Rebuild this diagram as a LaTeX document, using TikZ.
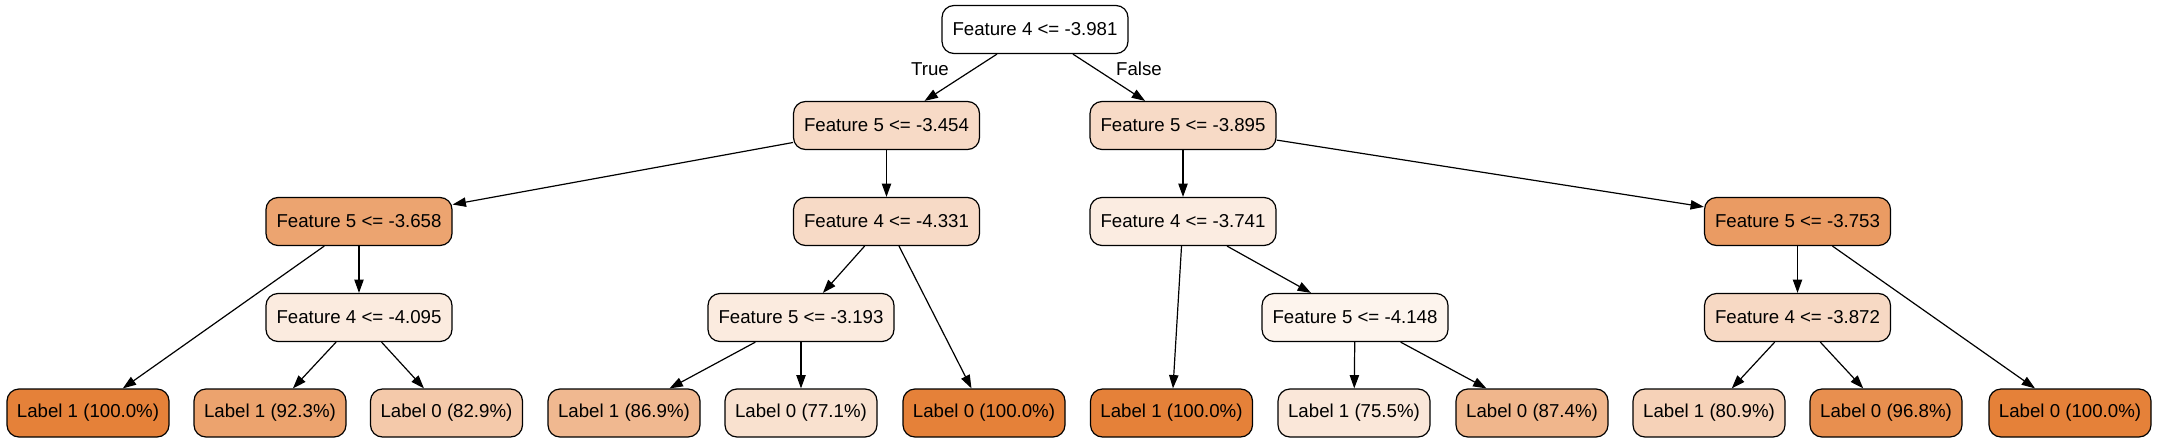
\documentclass[tikz,border=0pt]{standalone}
\usepackage{fontspec}
\setmainfont{Liberation Sans}
\usetikzlibrary{arrows.meta}
\definecolor{org}{HTML}{E58139}
\tikzset{
  box/.style={draw=black, line width=0.9pt, rounded corners=9pt, inner sep=0pt,
    minimum height=36pt, font=\fontsize{14pt}{16pt}\selectfont},
  feat/.style={box, minimum width=139.5pt},
  leaf/.style={box, minimum width=114pt},
  leafw/.style={box, minimum width=121.5pt},
  edge/.style={draw=black, line width=0.9pt, -{Triangle[length=10pt,width=7pt]}},
  elab/.style={font=\fontsize{14pt}{16pt}\selectfont, inner sep=0pt}
}
\begin{document}
\begin{tikzpicture}[x=0.75pt,y=-0.75pt]
\useasboundingbox (0,0) rectangle (2157,443);
% level 0
\node[feat, fill=white] (r) at (1035,29.5) {Feature 4 <= -3.981};
% level 1
\node[feat, fill=org!29!white] (n1) at (886.5,125.5) {Feature 5 <= -3.454};
\node[feat, fill=org!29!white] (n2) at (1183,125.5) {Feature 5 <= -3.895};
% level 2
\node[feat, fill=org!72!white] (n3) at (359,221.5) {Feature 5 <= -3.658};
\node[feat, fill=org!29!white] (n4) at (886.5,221.5) {Feature 4 <= -4.331};
\node[feat, fill=org!15!white] (n5) at (1183,221.5) {Feature 4 <= -3.741};
\node[feat, fill=org!79!white] (n6) at (1797.5,221.5) {Feature 5 <= -3.753};
% level 3
\node[feat, fill=org!16!white] (n7) at (359,317.5) {Feature 4 <= -4.095};
\node[feat, fill=org!16!white] (n8) at (801,317.5) {Feature 5 <= -3.193};
\node[feat, fill=org!9!white] (n9) at (1355,317.5) {Feature 5 <= -4.148};
\node[feat, fill=org!30!white] (n10) at (1797.5,317.5) {Feature 4 <= -3.872};
% leaves
\node[leafw, fill=org] (la) at (88,413) {Label 1 (100.0\%)};
\node[leaf, fill=org!73!white] (lb) at (270,413) {Label 1 (92.3\%)};
\node[leaf, fill=org!43!white] (lc) at (446.5,413) {Label 0 (82.9\%)};
\node[leaf, fill=org!56!white] (ld) at (624,413) {Label 1 (86.9\%)};
\node[leaf, fill=org!24!white] (le) at (801,413) {Label 0 (77.1\%)};
\node[leafw, fill=org] (lf) at (984,413) {Label 0 (100.0\%)};
\node[leafw, fill=org] (lg) at (1171.5,413) {Label 1 (100.0\%)};
\node[leaf, fill=org!19!white] (lh) at (1354,413) {Label 1 (75.5\%)};
\node[leaf, fill=org!58!white] (li) at (1532,413) {Label 0 (87.4\%)};
\node[leaf, fill=org!36!white] (lj) at (1709,413) {Label 1 (80.9\%)};
\node[leaf, fill=org!89!white] (lk) at (1886,413) {Label 0 (96.8\%)};
\node[leafw, fill=org] (ll) at (2070,413) {Label 0 (100.0\%)};
% edge labels
\node[elab] (tl) at (930,69) {True};
\node[elab] (fl) at (1139,69) {False};
% edges
\draw[edge] (r) -- (n1);
\draw[edge] (r) -- (n2);
\draw[edge] (n1) -- (n3);
\draw[edge] (n1) -- (n4);
\draw[edge] (n2) -- (n5);
\draw[edge] (n2) -- (n6);
\draw[edge] (n3) -- (la);
\draw[edge] (n3) -- (n7);
\draw[edge] (n7) -- (lb);
\draw[edge] (n7) -- (lc);
\draw[edge] (n4) -- (n8);
\draw[edge] (n4) -- (lf);
\draw[edge] (n8) -- (ld);
\draw[edge] (n8) -- (le);
\draw[edge] (n5) -- (lg);
\draw[edge] (n5) -- (n9);
\draw[edge] (n9) -- (lh);
\draw[edge] (n9) -- (li);
\draw[edge] (n6) -- (n10);
\draw[edge] (n6) -- (ll);
\draw[edge] (n10) -- (lj);
\draw[edge] (n10) -- (lk);
\end{tikzpicture}
\end{document}
